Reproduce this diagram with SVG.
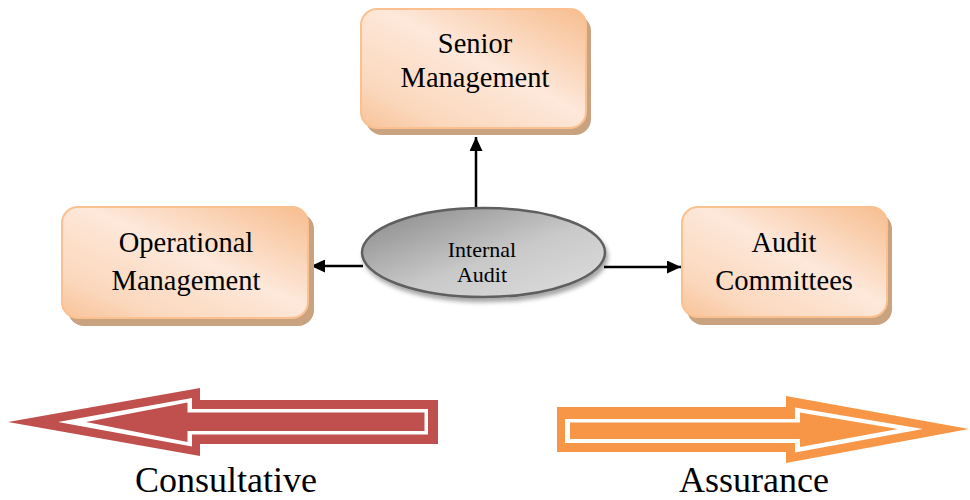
<svg xmlns="http://www.w3.org/2000/svg" width="970" height="500" viewBox="0 0 970 500">
  <defs>
    <linearGradient id="peach" x1="1" y1="0" x2="0" y2="1">
      <stop offset="0" stop-color="#f7bd8f"/>
      <stop offset="0.45" stop-color="#fde8da"/>
      <stop offset="0.8" stop-color="#fbd8bd"/>
      <stop offset="1" stop-color="#f8c399"/>
    </linearGradient>
    <linearGradient id="silver" x1="0" y1="0" x2="1" y2="1">
      <stop offset="0" stop-color="#868686"/>
      <stop offset="0.55" stop-color="#c9c9c9"/>
      <stop offset="1" stop-color="#dedede"/>
    </linearGradient>
    <filter id="soft" x="-10%" y="-20%" width="125%" height="145%">
      <feDropShadow dx="2" dy="4" stdDeviation="2" flood-color="#000" flood-opacity="0.35"/>
    </filter>
    <marker id="head" viewBox="0 0 14 13" refX="14" refY="6.5" markerWidth="14" markerHeight="13" markerUnits="userSpaceOnUse" orient="auto">
      <path d="M0,0 L14,6.5 L0,13 Z" fill="#000"/>
    </marker>
  </defs>
  <style>
    .box { fill: url(#peach); stroke: #fac090; stroke-width: 2; }
    .boxshadow { fill: #c9a27f; }
    .label { font-family: "Liberation Serif", "Times New Roman", serif; font-size: 28.5px; fill: #000; text-anchor: middle; }
    .small { font-size: 22px; }
    .big { font-size: 36px; }
    .link { stroke: #000; stroke-width: 2.5; fill: none; marker-end: url(#head); }
  </style>

  <!-- connectors from the central node -->
  <g id="connectors">
    <line class="link" x1="476" y1="207" x2="476" y2="137"/>
    <line class="link" x1="363" y1="266" x2="311" y2="266"/>
    <line class="link" x1="604" y1="267" x2="681" y2="267"/>
  </g>

  <g id="senior-management">
    <rect class="boxshadow" x="366" y="15" width="225" height="120" rx="16"/>
    <rect class="box" x="361" y="9" width="225" height="119" rx="16"/>
    <text class="label" x="475" y="53">Senior</text>
    <text class="label" x="475" y="87">Management</text>
  </g>

  <g id="operational-management">
    <rect class="boxshadow" x="68" y="213" width="246" height="113" rx="16"/>
    <rect class="box" x="62" y="207" width="246" height="111" rx="16"/>
    <text class="label" x="186" y="251.5">Operational</text>
    <text class="label" x="186" y="290">Management</text>
  </g>

  <g id="audit-committees">
    <rect class="boxshadow" x="687" y="213" width="205" height="112" rx="16"/>
    <rect class="box" x="682" y="207" width="205" height="110" rx="16"/>
    <text class="label" x="784" y="251.5">Audit</text>
    <text class="label" x="784" y="290">Committees</text>
  </g>

  <g id="internal-audit">
    <ellipse cx="483.5" cy="252.5" rx="121.5" ry="44.5" fill="url(#silver)" stroke="#5f5f5f" stroke-width="2.5" filter="url(#soft)"/>
    <text class="label small" x="482" y="256.5">Internal</text>
    <text class="label small" x="482" y="281.5">Audit</text>
  </g>

  <!-- consultative block arrow (pointing left) -->
  <g id="consultative">
    <polygon fill="#c0504d" points="8,422 200,388 200,400 438,400 438,444 200,444 200,456"/>
    <polygon fill="#ffffff" points="58,422 192,398 192,409 428,409 428,434.5 192,434.5 192,446.5"/>
    <polygon fill="#c0504d" points="86,422 187.5,402.5 187.5,412.5 424.5,412.5 424.5,431 187.5,431 187.5,442"/>
    <text class="label big" x="226" y="492">Consultative</text>
  </g>

  <!-- assurance block arrow (pointing right) -->
  <g id="assurance">
    <polygon fill="#f79646" points="557,407 786,407 786,396 969,429 786,463 786,452 557,452"/>
    <polygon fill="#ffffff" points="565,419 795,419 795,407.5 923,429 795,452.5 795,443 565,443"/>
    <polygon fill="#f79646" points="570,422.5 800,422.5 800,412.5 898,429 800,447 800,439 570,439"/>
    <text class="label big" x="754" y="492">Assurance</text>
  </g>
</svg>
